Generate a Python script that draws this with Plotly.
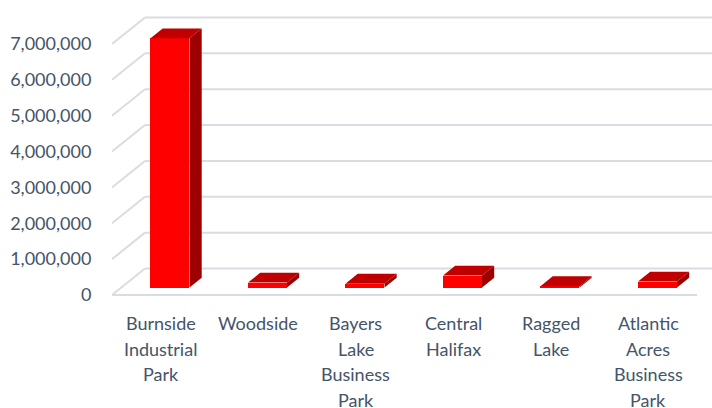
import plotly.graph_objects as go

# ---------------- data ----------------
categories = [
    "Burnside<br>Industrial<br>Park",
    "Woodside",
    "Bayers<br>Lake<br>Business<br>Park",
    "Central<br>Halifax",
    "Ragged<br>Lake",
    "Atlantic<br>Acres<br>Business<br>Park",
]
values = [6950000, 140000, 110000, 335000, 40000, 167000]
y_ticks = [0, 1000000, 2000000, 3000000, 4000000, 5000000, 6000000, 7000000]

# ---------------- styling / geometry ----------------
FONT = "Lato, 'Open Sans', sans-serif"
TXT = "#44546A"
GRID = "#D9DCE1"
FRONT = "#FF0000"
TOP = "#C00000"
SIDE = "#9E0000"

DX = 0.3385          # depth offset in category units
DY = 0.739e6         # depth offset in value units
F1, F2 = 0.28, 0.65  # bar front/back depth fractions
HALF = 0.2           # half bar width
YMIN, YMAX = -0.1394e6, 8.2264e6
XMIN, XMAX = -0.5, 5.6538
LINE_H = 25.5        # category label line height (px)
FIRST = 23           # first label line centre below plot bottom (px)

fig = go.Figure()

# back wall gridlines + left slants (drawn below traces)
shapes = []
for v in y_ticks:
    shapes.append(dict(type="line", xref="x", yref="y", layer="below",
                       x0=XMIN, y0=v, x1=XMIN + DX, y1=v + DY,
                       line=dict(color=GRID, width=2)))
    shapes.append(dict(type="line", xref="x", yref="y", layer="below",
                       x0=XMIN + DX, y0=v + DY, x1=XMAX + 1, y1=v + DY,
                       line=dict(color=GRID, width=2)))
# front floor edge
shapes.append(dict(type="line", xref="x", yref="y", layer="below",
                   x0=XMIN, y0=0, x1=len(categories) - 0.5, y1=0,
                   line=dict(color=GRID, width=2)))

# bars: front faces
xs = list(range(len(categories)))
fig.add_trace(go.Bar(
    x=[i + F1 * DX for i in xs], y=values, base=[F1 * DY] * len(values),
    width=2 * HALF, marker=dict(color=FRONT, line=dict(width=0)),
    showlegend=False, hoverinfo="skip"))

# top and side faces
for i, v in zip(xs, values):
    xl, xr = i - HALF, i + HALF
    top_x = [xl + F1 * DX, xr + F1 * DX, xr + F2 * DX, xl + F2 * DX, xl + F1 * DX]
    top_y = [v + F1 * DY, v + F1 * DY, v + F2 * DY, v + F2 * DY, v + F1 * DY]
    fig.add_trace(go.Scatter(x=top_x, y=top_y, fill="toself", fillcolor=TOP,
                             mode="lines", line=dict(width=0, color=TOP),
                             hoverinfo="skip", showlegend=False))
    side_x = [xr + F1 * DX, xr + F2 * DX, xr + F2 * DX, xr + F1 * DX, xr + F1 * DX]
    side_y = [F1 * DY, F2 * DY, v + F2 * DY, v + F1 * DY, F1 * DY]
    fig.add_trace(go.Scatter(x=side_x, y=side_y, fill="toself", fillcolor=SIDE,
                             mode="lines", line=dict(width=0, color=SIDE),
                             hoverinfo="skip", showlegend=False))

# category labels, one annotation per wrapped line (Excel-like line height)
annotations = []
for i, cat in zip(xs, categories):
    for k, line in enumerate(cat.split("<br>")):
        annotations.append(dict(x=i, xref="x", y=0, yref="paper",
                                text=line, showarrow=False,
                                xanchor="center", yanchor="middle",
                                yshift=-(FIRST + k * LINE_H),
                                font=dict(family=FONT, size=18, color=TXT)))

fig.update_layout(
    width=712, height=408,
    margin=dict(l=112, r=0, t=0, b=108, autoexpand=False),
    paper_bgcolor="white", plot_bgcolor="white",
    font=dict(family=FONT, size=18, color=TXT),
    bargap=0,
    shapes=shapes,
    annotations=annotations,
    xaxis=dict(range=[XMIN, XMAX], tickvals=xs, showticklabels=False,
               showgrid=False, zeroline=False, showline=False, automargin=False,
               fixedrange=True),
    yaxis=dict(range=[YMIN, YMAX], tickvals=y_ticks, tickformat=",",
               showgrid=False, zeroline=False, showline=False, automargin=False,
               ticks="outside", ticklen=16, tickcolor="rgba(0,0,0,0)",
               tickfont=dict(family=FONT, size=18, color=TXT), fixedrange=True),
)

fig.write_html("out.html",
               config={"displayModeBar": False},
               post_script="document.body.style.margin='0px';")
